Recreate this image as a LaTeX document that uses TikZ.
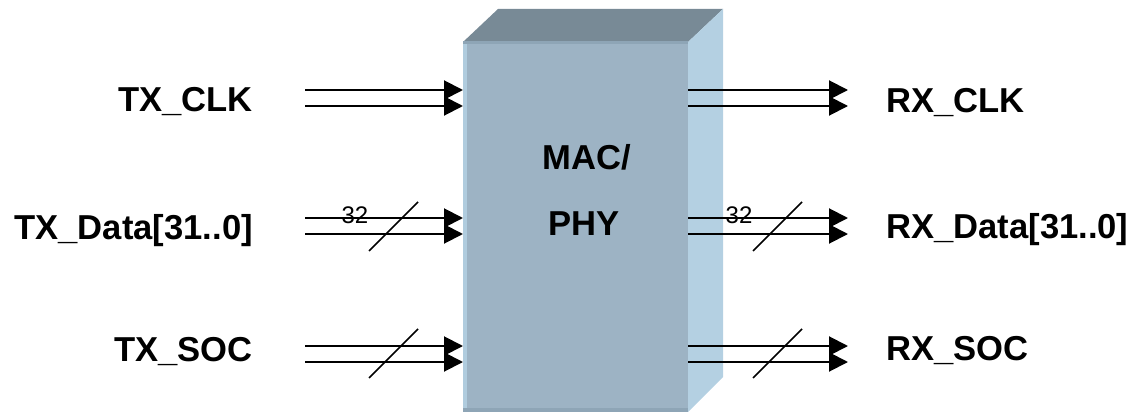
\documentclass[tikz,border=0pt]{standalone}
\usepackage{fontspec}
\setmainfont{Liberation Sans}
\usetikzlibrary{arrows.meta}
\definecolor{topc}{HTML}{788A96}
\definecolor{frontc}{HTML}{9DB3C4}
\definecolor{sidec}{HTML}{B4D0E2}
\definecolor{edgec}{HTML}{8EA5B6}
\begin{document}
\begin{tikzpicture}[x=1pt,y=-1pt,
  sig/.style={line width=2pt,-{Triangle[length=19pt,width=19pt]}},
  lbl/.style={font=\fontsize{34.6}{38}\selectfont\bfseries, inner sep=0pt},
  bus/.style={line width=1.5pt},
  num/.style={font=\fontsize{24}{26}\selectfont, inner sep=0pt}]
\useasboundingbox (0,0) rectangle (1133,412);
% block
\fill[topc] (463,42) -- (498,9) -- (723,9) -- (688,42) -- cycle;
\fill[sidec] (688,42) -- (723,9) -- (723,377) -- (688,412) -- cycle;
\node[fill=frontc, minimum width=225pt, minimum height=370pt, anchor=north west, inner sep=0pt, outer sep=0pt] (mac) at (463,42) {};
\fill[sidec!85!frontc] (463,42) rectangle (467,412);
\fill[edgec] (463,408) rectangle (688,412);
\fill[edgec] (463,41) rectangle (688,44);
\node[lbl, anchor=base] (mactxt) at (587,169) {MAC/};
\node[lbl, anchor=base] (phytxt) at (584,235) {PHY};
% left labels
\node[lbl, anchor=base east] (txclk) at (253,111) {TX\_CLK};
\node[lbl, anchor=base east] (txdata) at (253,239) {TX\_Data[31..0]};
\node[lbl, anchor=base east] (txsoc) at (253,361) {TX\_SOC};
% right labels
\node[lbl, anchor=base west] (rxclk) at (886,112) {RX\_CLK};
\node[lbl, anchor=base west] (rxdata) at (886,238) {RX\_Data[31..0]};
\node[lbl, anchor=base west] (rxsoc) at (886,360) {RX\_SOC};
% left arrows
\foreach \n/\y in {a1/90,a2/106,a3/218,a4/234,a5/346,a6/362}{
  \coordinate (\n) at (305,\y);
  \draw[sig] (\n) -- (\n -| mac.west);
}
% right arrows
\foreach \n/\y in {b1/90,b2/106,b3/218,b4/234,b5/346,b6/362}{
  \coordinate (\n) at (848,\y);
  \draw[sig] (\n -| mac.east) -- (\n);
}
% bus slashes
\draw[bus] (369,251) -- (418,202);
\draw[bus] (369,378) -- (418,329);
\draw[bus] (753,251) -- (802,202);
\draw[bus] (753,378) -- (802,329);
\node[num, anchor=base] (n1) at (355,223) {32};
\node[num, anchor=base] (n2) at (739,223) {32};
\end{tikzpicture}
\end{document}
